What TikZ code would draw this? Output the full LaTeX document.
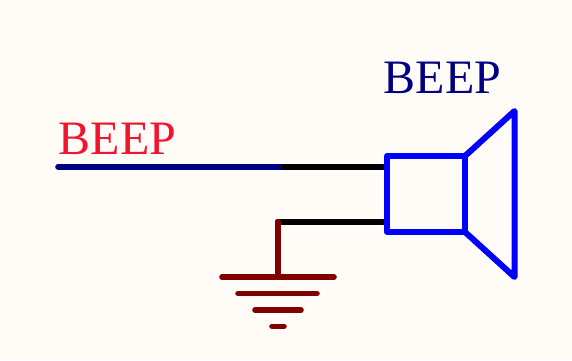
\documentclass[tikz,border=0pt]{standalone}
\usepackage{fontspec}
\setmainfont{Liberation Serif}
\definecolor{bgc}{HTML}{FFFCF8}
\definecolor{netred}{HTML}{F0142D}
\definecolor{navyc}{HTML}{000080}
\definecolor{gndc}{HTML}{800000}
\tikzset{
  x=1pt,y=-1pt,
  lbl/.style={anchor=base west,inner sep=0pt,font=\fontsize{48}{48}\selectfont},
  wire/.style={line width=5.6pt,line cap=round,line join=round},
  body/.style={line width=6pt,draw=blue,line cap=round,line join=round},
  gnd/.style={wire,draw=gndc}
}
\begin{document}
\begin{tikzpicture}
\fill[bgc] (0,0) rectangle (572,360);
\useasboundingbox (0,0) rectangle (572,360);
\coordinate (netL) at (58,166.7);
\coordinate (netM) at (279,166.7);
\coordinate (pin1) at (387,166.7);
\coordinate (pin2) at (387,221.7);
\coordinate (corner) at (277.7,221.7);
\coordinate (gndtop) at (277.7,277);
\node[lbl,text=netred] (netlabel) at (58.5,154.5) {BEEP};
\node[lbl,text=navyc] (complabel) at (383.5,93.5) {BEEP};
\draw[wire,black] (corner) -- (pin2);
\draw[wire,black,line cap=butt] (netM) -- (pin1);
\draw[wire,navyc] (netL) -- (netM);
\draw[gnd] (corner) -- (gndtop);
\draw[gnd] (222,277) -- (334,277);
\draw[gnd] (238,293.5) -- (317,293.5);
\draw[gnd] (255,310) -- (301,310);
\draw[gnd] (272,326.3) -- (284,326.3);
\draw[body] (387,156) rectangle (465,232);
\draw[body] (465,156) -- (514.5,111) -- (514.5,277) -- (465,232);
\end{tikzpicture}
\end{document}
